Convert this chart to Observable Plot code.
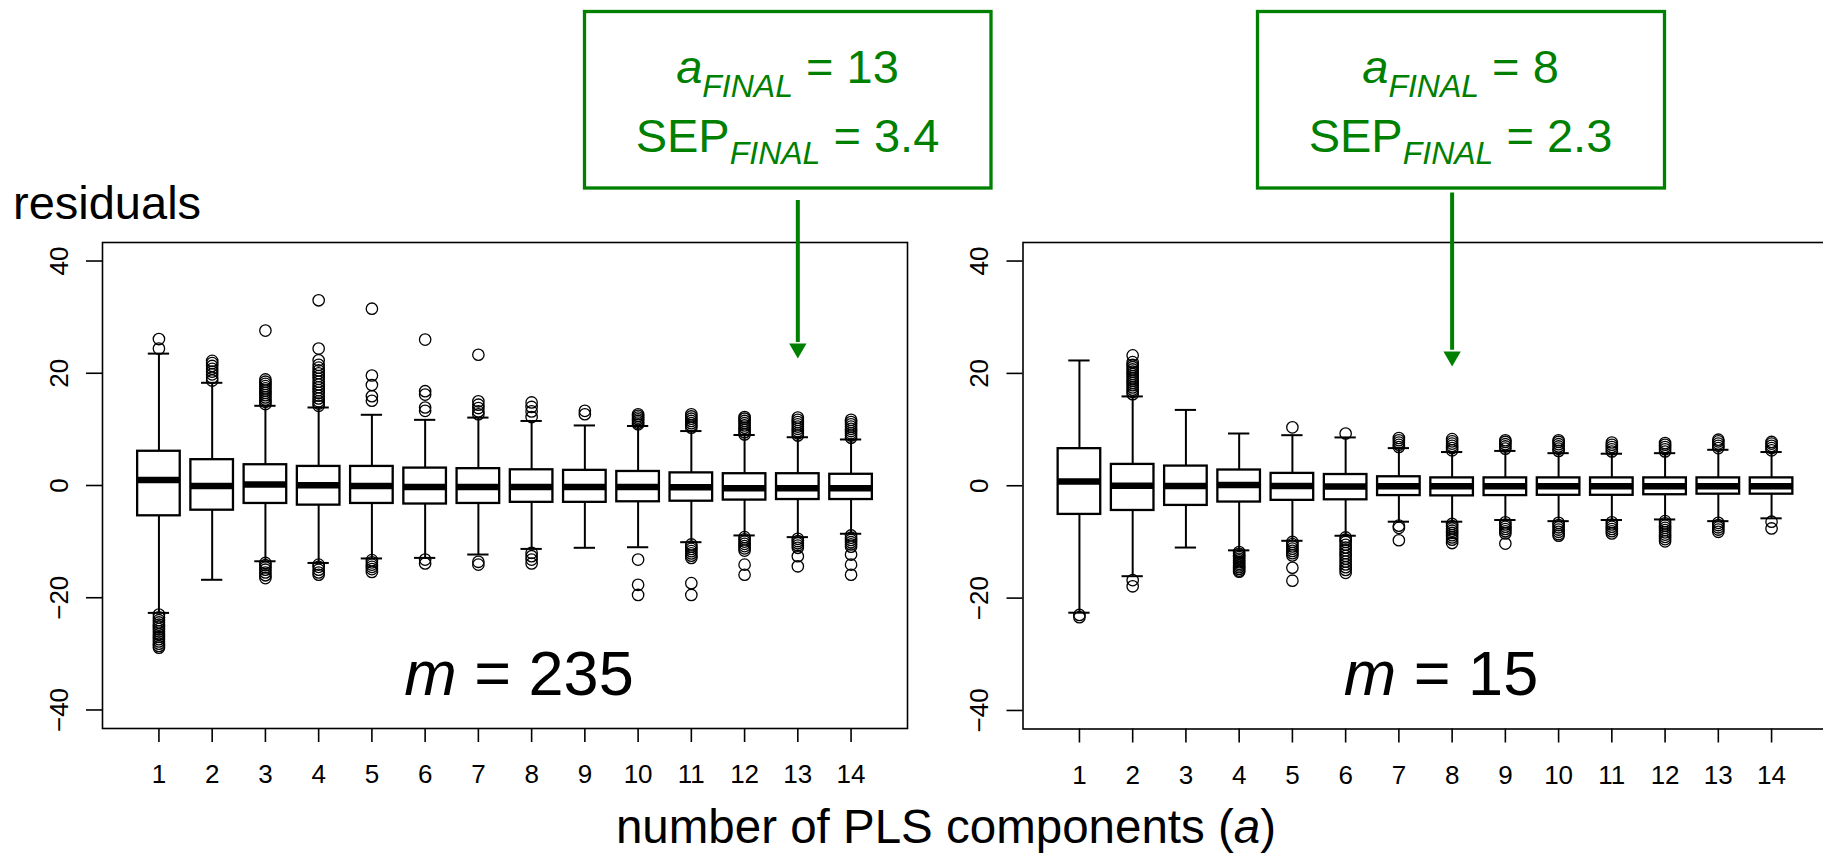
<!DOCTYPE html>
<html><head><meta charset="utf-8">
<script src="https://cdn.jsdelivr.net/npm/d3@7"></script>
<script src="https://cdn.jsdelivr.net/npm/@observablehq/plot@0.6"></script>
<style>
html,body{margin:0;padding:0;background:#fff;overflow:hidden;width:1823px;height:855px;}
#wrap{position:relative;width:1823px;height:855px;overflow:hidden;font-family:"Liberation Sans",Arial,sans-serif;background:#fff;}
.panel{position:absolute;top:0;}
#overlay{position:absolute;left:0;top:0;pointer-events:none;}
</style></head><body><div id="wrap"></div>
<script>
// ---------- data ----------
const components = [1,2,3,4,5,6,7,8,9,10,11,12,13,14];
const yTicks = [-40,-20,0,20,40];

// left panel, m = 235
const mLeft = 235;
const leftMedian = [1.0,-0.1,0.2,0.05,-0.1,-0.25,-0.25,-0.25,-0.25,-0.25,-0.3,-0.5,-0.5,-0.5];
const leftQ1     = [-5.4,-4.4,-3.2,-3.5,-3.2,-3.3,-3.2,-3.0,-3.0,-2.9,-2.8,-2.6,-2.5,-2.5];
const leftQ3     = [6.1,4.6,3.7,3.4,3.4,3.1,3.0,2.8,2.7,2.5,2.25,2.1,2.1,2.0];
const leftLo     = [-22.7,-16.8,-13.5,-13.8,-13.0,-12.9,-12.3,-11.3,-11.1,-11.0,-10.1,-8.9,-9.2,-8.6];
const leftHi     = [23.5,18.3,14.2,13.9,12.6,11.7,12.1,11.5,10.7,10.6,9.7,9.0,8.6,8.2];
const leftOutliers = [
  [24.4,26.1,-23.0,-23.5,-24.0,-24.4,-24.8,-25.2,-25.6,-26.0,-26.5,-27.0,-27.4,-27.8,-28.2,-28.6,-28.9],
  [18.7,19.2,19.8,20.3,20.8,21.3,21.8,22.2],
  [14.5,14.9,15.3,15.7,16.1,16.5,16.9,17.3,17.7,18.1,18.5,18.9,27.6,-13.8,-14.2,-14.6,-15.0,-15.5,-16.0,-16.5],
  [14.2,14.6,15.0,15.5,16.0,16.5,17.0,17.5,18.0,18.5,19.0,19.5,20.0,20.5,21.0,21.5,22.3,24.4,33.0,-14.1,-14.5,-15.0,-15.5,-15.9],
  [15.1,15.9,17.9,19.6,31.5,-13.3,-13.7,-14.1,-14.5,-14.9,-15.4],
  [13.3,13.9,16.2,16.8,26.0,-13.2,-13.9],
  [12.7,13.2,13.8,14.4,15.0,23.3,-13.6,-14.1],
  [12.2,13.2,14.0,14.8,-12.0,-12.6,-13.2,-13.9],
  [12.7,13.3],
  [10.9,11.2,11.5,11.8,12.1,12.4,12.7,-13.2,-17.7,-19.5],
  [10.3,10.7,11.1,11.5,11.9,12.3,12.7,-10.5,-10.9,-11.3,-11.7,-12.1,-12.5,-12.9,-17.4,-19.5],
  [9.1,9.5,9.9,10.3,10.7,11.1,11.5,11.9,12.2,-9.2,-9.6,-10.0,-10.4,-10.8,-11.2,-11.6,-14.1,-15.9],
  [8.9,9.3,9.7,10.1,10.5,10.9,11.3,11.7,12.1,-9.5,-9.9,-10.3,-10.7,-11.1,-12.6,-14.4],
  [8.5,8.9,9.3,9.7,10.1,10.5,10.9,11.3,11.7,-8.9,-9.3,-9.7,-10.1,-10.5,-10.9,-12.3,-14.1,-15.9]
];
const aFinalLeft = 13, sepFinalLeft = 3.4;

// right panel, m = 15
const mRight = 15;
const rightMedian = [0.75,0.0,-0.05,0.15,-0.05,-0.15,-0.1,-0.1,-0.1,-0.1,-0.1,-0.1,-0.1,-0.1];
const rightQ1     = [-5.1,-4.4,-3.5,-2.9,-2.6,-2.5,-1.75,-1.8,-1.75,-1.7,-1.7,-1.6,-1.5,-1.5];
const rightQ3     = [6.6,3.8,3.5,2.8,2.2,2.0,1.6,1.4,1.4,1.4,1.4,1.4,1.4,1.4];
const rightLo     = [-22.6,-16.1,-11.0,-11.5,-9.8,-8.9,-6.4,-6.4,-6.1,-6.3,-6.1,-6.0,-6.3,-5.8];
const rightHi     = [22.3,15.9,13.5,9.3,9.0,8.6,6.7,6.0,6.2,5.8,5.7,5.8,6.4,6.0];
const rightOutliers = [
  [-23.0,-23.4],
  [16.3,16.7,17.1,17.5,17.9,18.3,18.7,19.1,19.5,19.9,20.3,20.7,21.1,21.5,22.0,23.2,-16.8,-17.9],
  [],
  [-11.8,-12.1,-12.4,-12.7,-13.0,-13.3,-13.6,-13.9,-14.2,-14.5,-14.8,-15.1,-15.3],
  [10.4,-10.0,-10.4,-10.8,-11.2,-11.6,-12.0,-12.4,-14.6,-16.9],
  [9.3,-9.2,-9.6,-10.0,-10.5,-11.0,-11.5,-12.0,-12.5,-13.0,-13.5,-14.0,-14.5,-15.0,-15.5],
  [6.9,7.3,7.7,8.1,8.5,-7.1,-7.5,-9.7],
  [6.3,6.7,7.1,7.5,7.9,8.3,-6.8,-7.2,-7.6,-8.0,-8.4,-8.8,-9.2,-9.6,-10.2],
  [6.6,7.0,7.4,7.8,8.1,-6.5,-6.9,-7.3,-7.7,-8.1,-8.5,-10.3],
  [6.2,6.6,7.0,7.4,7.8,8.1,-6.6,-7.0,-7.4,-7.8,-8.2,-8.6,-8.9],
  [6.1,6.5,6.9,7.3,7.7,-6.5,-6.9,-7.3,-7.7,-8.1,-8.5],
  [6.1,6.5,6.9,7.3,7.6,-6.3,-6.7,-7.1,-7.5,-7.9,-8.3,-8.7,-9.1,-9.5,-9.9],
  [6.7,7.1,7.5,7.9,8.2,-6.6,-7.0,-7.4,-7.8,-8.2],
  [6.3,6.7,7.1,7.5,7.8,-6.4,-7.6]
];
const aFinalRight = 8, sepFinalRight = 2.3;

// ---------- drawing ----------
const FONT = '"Liberation Sans", Arial, Helvetica, sans-serif';
const GREEN = "#008000";

function panel({left, width, marginLeft, marginRight, marginBottom, median, q1, q3, lo, hi, outliers, arrowX, arrowTop, arrowEnd, arrowHead}) {
  const boxes = components.map((a, i) => ({a, median: median[i], q1: q1[i], q3: q3[i], lo: lo[i], hi: hi[i]}));
  const outs = components.flatMap((a, i) => outliers[i].map(v => ({a, v})));
  const svg = Plot.plot({
    width, height: 800,
    marginLeft, marginRight, marginTop: 242, marginBottom,
    style: {fontFamily: FONT, fontSize: "26px", color: "black", background: "transparent", maxWidth: "none", overflow: "visible"},
    x: {type: "linear", domain: [-0.06, 15.06]},
    y: {domain: [-43.3, 43.3]},
    marks: [
      Plot.frame({stroke: "black", strokeWidth: 1.6}),
      Plot.axisY({ticks: yTicks, tickSize: 16, tickRotate: -90, tickPadding: 19, fontSize: 26, strokeWidth: 1.6, label: null}),
      Plot.axisX({ticks: components, tickSize: 14, tickPadding: 22.5, fontSize: 26, strokeWidth: 1.6, tickFormat: d => String(d), label: null}),
      Plot.ruleX(boxes, {x: "a", y1: "q3", y2: "hi", stroke: "black", strokeWidth: 2}),
      Plot.ruleX(boxes, {x: "a", y1: "q1", y2: "lo", stroke: "black", strokeWidth: 2}),
      Plot.ruleY(boxes, {y: "hi", x1: d => d.a - 0.2, x2: d => d.a + 0.2, stroke: "black", strokeWidth: 2}),
      Plot.ruleY(boxes, {y: "lo", x1: d => d.a - 0.2, x2: d => d.a + 0.2, stroke: "black", strokeWidth: 2}),
      Plot.rect(boxes, {x1: d => d.a - 0.4, x2: d => d.a + 0.4, y1: "q1", y2: "q3", fill: "white", stroke: "black", strokeWidth: 2.3}),
      Plot.ruleY(boxes, {y: "median", x1: d => d.a - 0.4, x2: d => d.a + 0.4, stroke: "black", strokeWidth: 6.5}),
      Plot.dot(outs, {x: "a", y: "v", r: 5.7, stroke: "black", fill: "none", strokeWidth: 1.3}),
      Plot.ruleX([arrowX], {x: d => d, y1: arrowTop, y2: arrowEnd, stroke: GREEN, strokeWidth: 4}),
      Plot.dot([arrowX], {x: d => d, y: arrowHead, symbol: "triangle2", r: 8.3, fill: GREEN, stroke: "none", rotate: 180})
    ]
  });
  svg.classList.add("panel");
  svg.style.left = left + "px";
  svg.style.position = "absolute";
  svg.style.top = "0px";
  return svg;
}

const wrap = document.getElementById("wrap");
wrap.appendChild(panel({
  left: 0, width: 915, marginLeft: 102, marginRight: 8, marginBottom: 72,
  median: leftMedian, q1: leftQ1, q3: leftQ3, lo: leftLo, hi: leftHi, outliers: leftOutliers,
  arrowX: aFinalLeft, arrowTop: 50.8, arrowEnd: 25.5, arrowHead: 24.4
}));
wrap.appendChild(panel({
  left: 915, width: 915, marginLeft: 107.5, marginRight: 2.5, marginBottom: 71.5,
  median: rightMedian, q1: rightQ1, q3: rightQ3, lo: rightLo, hi: rightHi, outliers: rightOutliers,
  arrowX: aFinalRight, arrowTop: 52.1, arrowEnd: 24.1, arrowHead: 23.0
}));

// ---------- text annotations ----------
function finalBox(cx, rx, rw, a, sep) {
  return `<rect x="${rx}" y="11.5" width="${rw}" height="176.5" fill="none" stroke="${GREEN}" stroke-width="3.3"/>
  <text x="${cx}" y="83" text-anchor="middle" font-size="47" fill="${GREEN}"><tspan font-style="italic">a</tspan><tspan font-style="italic" font-size="32" dy="13.5">FINAL</tspan><tspan dy="-13.5"> = ${a}</tspan></text>
  <text x="${cx}" y="152" text-anchor="middle" font-size="47" fill="${GREEN}">SEP<tspan font-style="italic" font-size="32" dy="11.5">FINAL</tspan><tspan dy="-11.5"> = ${sep}</tspan></text>`;
}
const overlay = `<svg id="overlay" width="1823" height="855" xmlns="http://www.w3.org/2000/svg" font-family='${FONT}'>
  <text x="13" y="219" font-size="47" fill="black">residuals</text>
  <text x="946" y="843" font-size="47.5" text-anchor="middle" fill="black">number of PLS components (<tspan font-style="italic">a</tspan>)</text>
  <text x="519" y="695" font-size="63" text-anchor="middle" fill="black"><tspan font-style="italic">m</tspan> = ${mLeft}</text>
  <text x="1441" y="695" font-size="63" text-anchor="middle" fill="black"><tspan font-style="italic">m</tspan> = ${mRight}</text>
  ${finalBox(787.5, 584.5, 406.5, aFinalLeft, sepFinalLeft)}
  ${finalBox(1460.5, 1257.5, 407, aFinalRight, sepFinalRight)}
</svg>`;
wrap.insertAdjacentHTML("beforeend", overlay);
</script>
</body></html>
